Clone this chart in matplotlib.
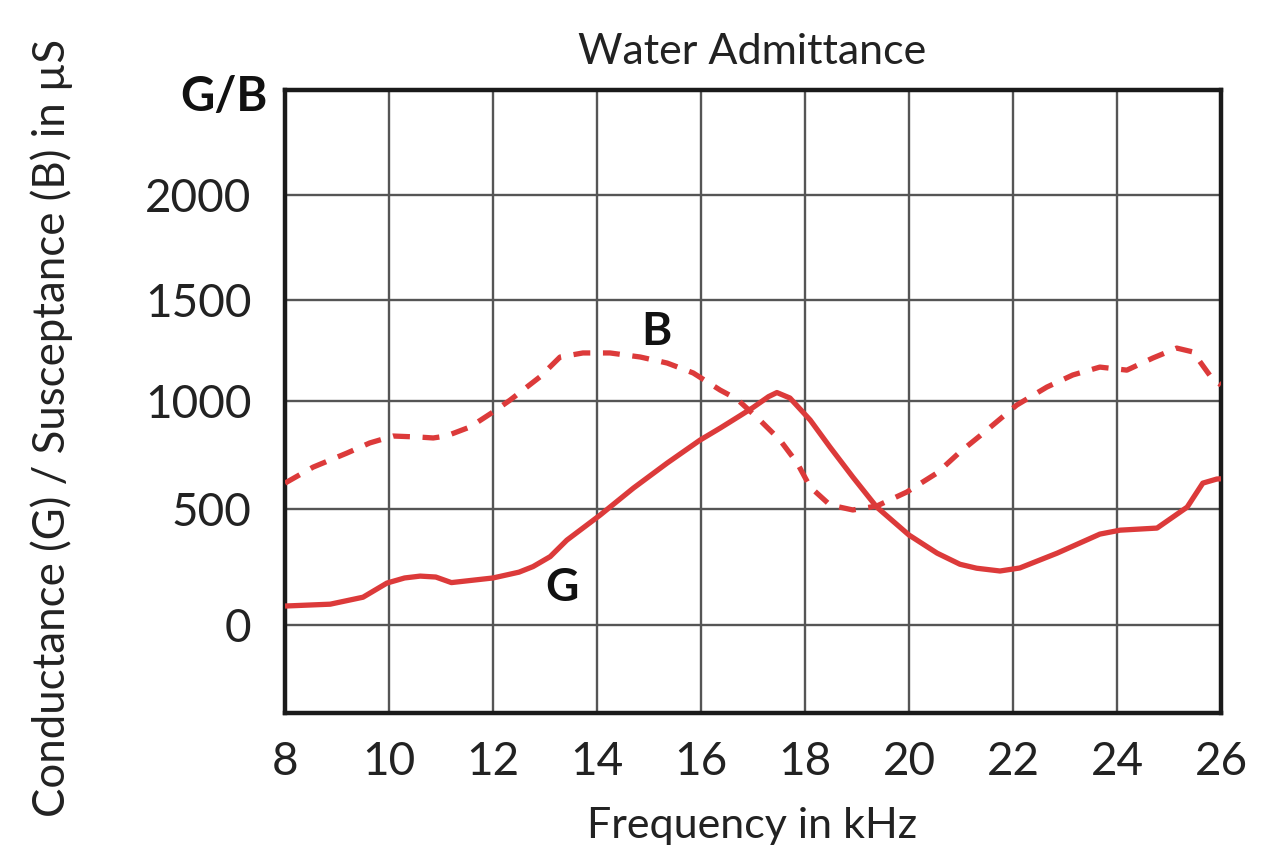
import numpy as np
import matplotlib
matplotlib.use("Agg")
import matplotlib.pyplot as plt

plt.rcParams['font.family'] = ['Lato', 'DejaVu Sans']

# ---- data ----
g_freq = [8.0, 8.87, 9.5, 9.96, 10.3, 10.6, 10.9, 11.2, 12.0, 12.5, 12.77, 13.1, 13.42,
          14.06, 14.7, 15.35, 15.98, 16.37, 16.75, 17.0, 17.3, 17.46, 17.71, 18.1, 18.48,
          18.92, 19.38, 20.0, 20.54, 20.98, 21.3, 21.75, 22.13, 22.85, 23.67,
          24.06, 24.77, 25.35, 25.65, 25.92, 26.0]
g_vals = [82, 90, 120, 181, 203, 211, 207, 183, 203, 228, 252, 295, 366,
          474, 597, 713, 819, 875, 932, 970, 1022, 1042, 1015, 912, 787,
          648, 509, 388, 310, 262, 245, 233, 246, 310, 392,
          409, 418, 509, 620, 639, 640]

b_freq = [8.0, 8.54, 9.19, 9.63, 10.08, 10.6, 10.85, 11.1, 11.56, 12.0, 12.33,
          12.9, 13.29, 13.73, 14.25, 14.83, 15.35, 15.85, 16.37, 16.69, 17.13,
          17.52, 17.85, 18.1, 18.48, 18.92, 19.38, 19.96, 20.54, 20.98, 21.37,
          22.07, 22.65, 23.15, 23.67, 24.19, 24.69, 25.15, 25.46, 25.85, 26.0]
b_vals = [620, 694, 759, 806, 838, 833, 829, 838, 880, 949, 1005,
          1119, 1218, 1238, 1238, 1218, 1188, 1139, 1054, 1010, 912,
          819, 713, 602, 519, 496, 514, 579, 667, 764, 840,
          981, 1069, 1129, 1168, 1153, 1213, 1262, 1243, 1104, 1080]

x_ticks = [8, 10, 12, 14, 16, 18, 20, 22, 24, 26]
y_ticks = [0, 500, 1000, 1500, 2000]
y_tick_labels = ["0", "500", "1000", "1500", "2000"]

# the original drawing's y axis is not perfectly even: map values to drawing positions
scale_vals = np.array([-1000, 0, 500, 1000, 1500, 2000, 3000], dtype=float)
scale_pos = -np.array([857, 625, 509, 401, 300, 195, -15], dtype=float)

def fwd(v):
    return np.interp(v, scale_vals, scale_pos)

def inv(u):
    return np.interp(u, scale_pos, scale_vals)

RED = '#dc3a3a'

fig = plt.figure(figsize=(12.73, 8.5), dpi=100)
ax = fig.add_axes([285 / 1273, 1 - 713 / 850, (1221 - 285) / 1273, (713 - 90) / 850])
ax.set_yscale('function', functions=(fwd, inv))
ax.set_xlim(8, 26)
ax.set_ylim(-379, 2500)

ax.plot(g_freq, g_vals, color=RED, lw=3.8, solid_capstyle='butt', solid_joinstyle='round', zorder=3)
ax.plot(b_freq, b_vals, color=RED, lw=3.8, linestyle=(0, (3.2, 2.4)), dash_capstyle='butt', zorder=3)

ax.set_xticks(x_ticks)
ax.set_xticklabels([str(t) for t in x_ticks])
ax.set_yticks(y_ticks)
ax.set_yticklabels(y_tick_labels)
ax.minorticks_off()
ax.tick_params(length=0, labelsize=33, pad=24, colors='#222222')
ax.tick_params(axis='x', pad=20)
ax.grid(True, color='#555555', lw=1.7)
ax.set_axisbelow(True)
for s in ax.spines.values():
    s.set_linewidth(3.2)
    s.set_color('#1a1a1a')

ax.text(15.15, 1342, 'B', fontsize=33, fontweight='bold', ha='center', va='center', color='#111111')
ax.text(13.33, 160, 'G', fontsize=33, fontweight='bold', ha='center', va='center', color='#111111')

fig.text(752 / 1273, 1 - 52 / 850, 'Water Admittance', fontsize=31, ha='center', va='center',
         color='#222222')
fig.text(752 / 1273, 1 - 826 / 850, 'Frequency in kHz', fontsize=31, ha='center', va='center',
         color='#222222')
fig.text(52 / 1273, 1 - 428 / 850, 'Conductance (G) / Susceptance (B) in µS', fontsize=31.5,
         rotation=90, ha='center', va='center', color='#222222')
fig.text(268 / 1273, 1 - 97 / 850, 'G/B', fontsize=34, fontweight='bold', ha='right', va='center',
         color='#111111')

fig.savefig('out.png', dpi=100)
